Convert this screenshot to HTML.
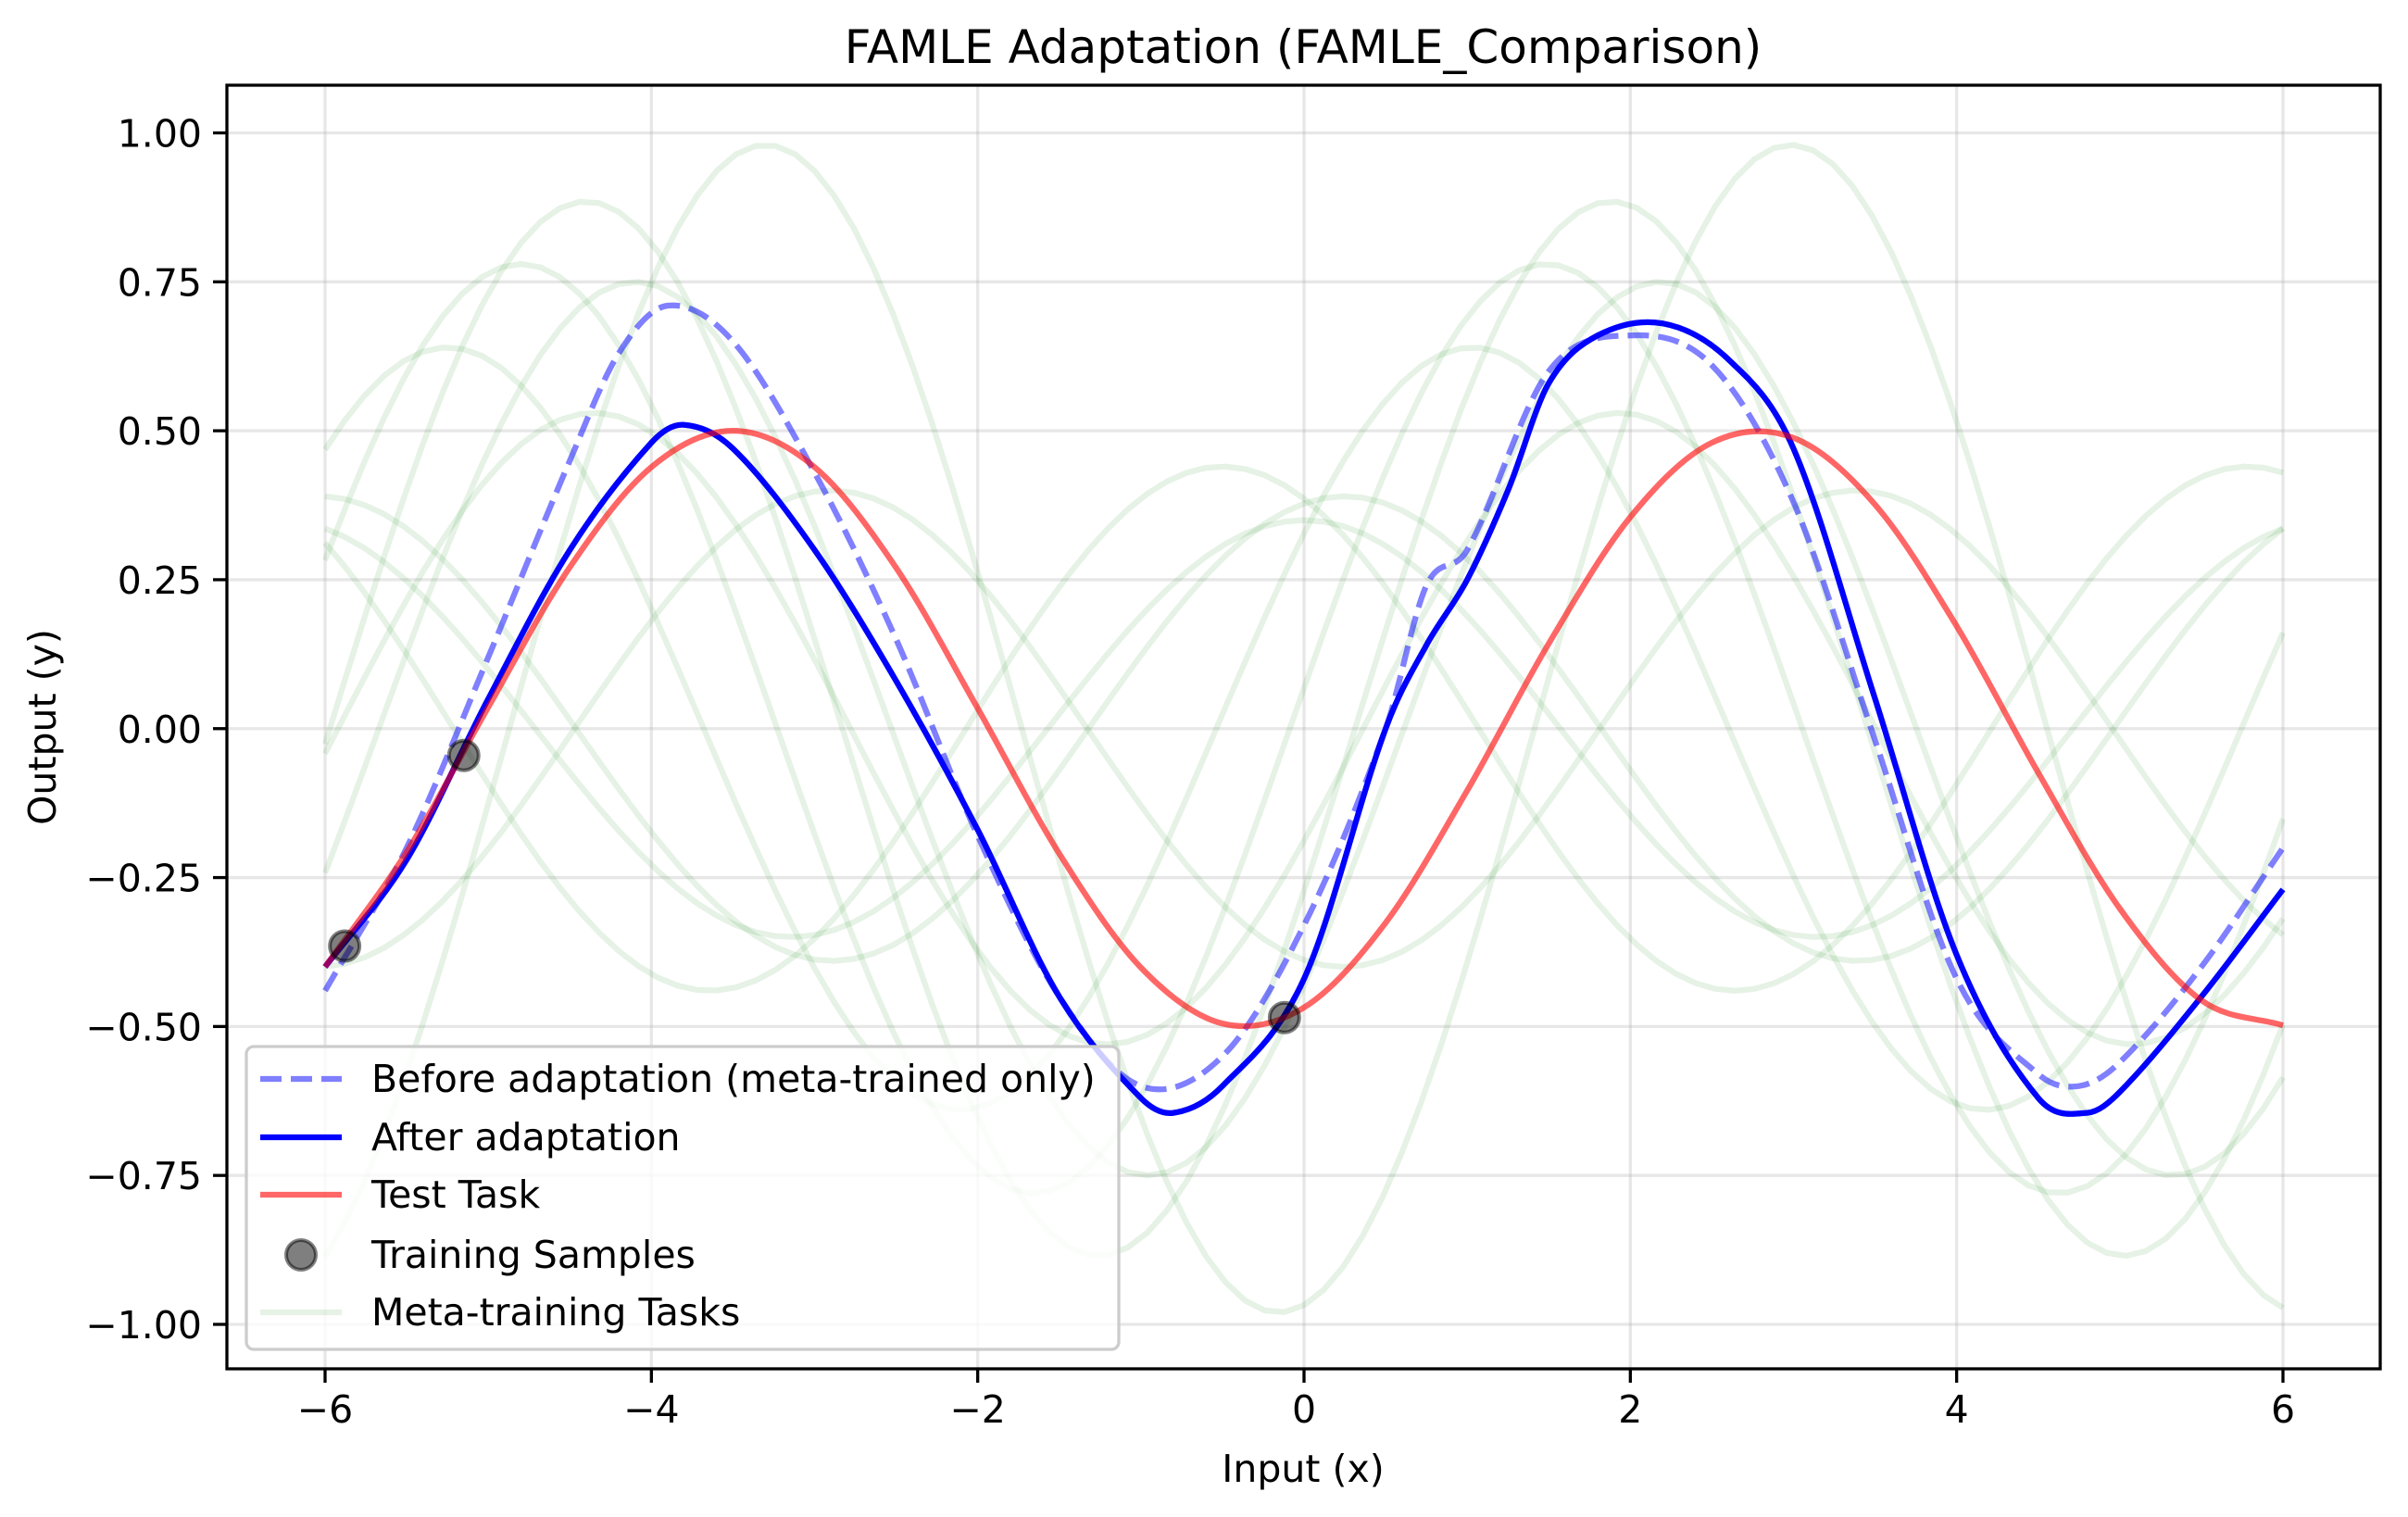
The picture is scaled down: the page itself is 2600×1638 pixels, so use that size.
<!DOCTYPE html>
<html><head><meta charset="utf-8"><style>
html,body{margin:0;padding:0;background:#fff}
svg{display:block}
text{font-family:"DejaVu Sans","Liberation Sans",sans-serif;fill:#000}
</style></head><body>
<svg id="chart" width="2600" height="1638" viewBox="0 0 2600 1638" xmlns="http://www.w3.org/2000/svg">
<rect width="2600" height="1638" fill="#fff"/>
<text x="1407" y="68" font-size="50" text-anchor="middle">FAMLE Adaptation (FAMLE_Comparison)</text>
<g id="grid"></g>
<g id="meta"></g>
<g id="series"></g>
<rect x="245" y="92" width="2325" height="1386" fill="none" stroke="#000" stroke-width="3.3"/>
<g id="axes"></g>
<text x="1407" y="1600" font-size="41" text-anchor="middle">Input (x)</text>
<text transform="translate(60,785) rotate(-90)" font-size="41" text-anchor="middle">Output (y)</text>
<g id="legend"></g>
</svg>
<script>
const xTicks=[-6,-4,-2,0,2,4,6];
const xTickLabels=["\u22126","\u22124","\u22122","0","2","4","6"];
const yTicks=[1,0.75,0.5,0.25,0,-0.25,-0.5,-0.75,-1];
const yTickLabels=["1.00","0.75","0.50","0.25","0.00","\u22120.25","\u22120.50","\u22120.75","\u22121.00"];

const testX=[-6,-5.5,-5,-4.5,-4,-3.5,-3,-2.5,-2,-1.5,-1,-0.5,0,0.5,1,1.5,2,2.5,3,3.5,4,4.5,5,5.5,6];
const testY=[-0.400,-0.207,0.036,0.271,0.439,0.5,0.439,0.270,0.034,-0.210,-0.401,-0.495,-0.468,-0.326,-0.104,0.143,0.355,0.480,0.488,0.376,0.172,-0.074,-0.302,-0.456,-0.498];

const afterX=[-6,-5.5,-5,-4.5,-4,-3.8,-3.5,-3,-2.5,-2,-1.5,-1,-0.8,-0.5,0,0.5,0.75,1,1.25,1.5,1.8,2.2,2.6,3,3.5,4,4.5,4.8,5,5.5,6];
const afterY=[-0.40,-0.22,0.05,0.30,0.48,0.51,0.47,0.30,0.08,-0.17,-0.45,-0.62,-0.645,-0.60,-0.42,0.0,0.14,0.25,0.40,0.58,0.66,0.68,0.62,0.47,0.05,-0.38,-0.62,-0.645,-0.61,-0.45,-0.27];

const beforeX=[-6,-5.5,-5,-4.5,-4.2,-3.9,-3.5,-3,-2.5,-2,-1.5,-1,-0.5,0,0.5,0.75,1,1.5,2,2.5,3,3.5,4,4.5,4.75,5,5.5,6];
const beforeY=[-0.44,-0.20,0.12,0.45,0.63,0.71,0.65,0.43,0.15,-0.18,-0.45,-0.60,-0.55,-0.33,0.0,0.24,0.30,0.60,0.66,0.61,0.38,-0.02,-0.42,-0.58,-0.60,-0.56,-0.40,-0.20];

const sampleX=[-5.88,-5.15,-0.12];
const sampleY=[-0.365,-0.045,-0.485];

const metaAmps=[0.98,0.885,0.78,0.75,0.64,0.53,0.44,0.40,0.39,0.35];
const metaPeaks=[-3.3,-4.4,-4.8,-4.1,-5.25,-4.35,-0.5,-2.9,0.25,0.0];

const NS="http://www.w3.org/2000/svg";
const X0=351,X1=2465,Y1p=143.5,Ym1=1430;
function sx(v){return X0+(v+6)*(X1-X0)/12;}
function sy(v){return Y1p+(1-v)*(Ym1-Y1p)/2;}
function mk(tag,attrs,parent){const e=document.createElementNS(NS,tag);for(const k in attrs)e.setAttribute(k,attrs[k]);parent.appendChild(e);return e;}
function smoothPath(xs,ys){
  const p=xs.map((x,i)=>[sx(x),sy(ys[i])]);
  const n=p.length;
  const m=p.map((q,i)=>{const a=p[Math.max(i-1,0)],b=p[Math.min(i+1,n-1)];return (b[1]-a[1])/(b[0]-a[0]);});
  let d="M"+p[0][0].toFixed(1)+","+p[0][1].toFixed(1);
  for(let i=0;i<n-1;i++){
    const h=(p[i+1][0]-p[i][0])/3;
    d+="C"+(p[i][0]+h).toFixed(1)+","+(p[i][1]+m[i]*h).toFixed(1)+" "+(p[i+1][0]-h).toFixed(1)+","+(p[i+1][1]-m[i+1]*h).toFixed(1)+" "+p[i+1][0].toFixed(1)+","+p[i+1][1].toFixed(1);
  }
  return d;
}
const grid=document.getElementById('grid'),axes=document.getElementById('axes');
xTicks.forEach((t,i)=>{
  const g=mk('line',{x1:sx(t),x2:sx(t),y1:92,y2:1478,stroke:'#b0b0b0','stroke-opacity':0.3,'stroke-width':3.3},grid);
  
  
  const tk=mk('line',{x1:sx(t),x2:sx(t),y1:1478,y2:1493,stroke:'#000','stroke-width':3.3},axes);
  
  
  const tx=mk('text',{x:sx(t),y:1536,'font-size':41,'text-anchor':'middle'},axes);
  tx.textContent=xTickLabels[i];
  
  
});
yTicks.forEach((t,i)=>{
  const g=mk('line',{x1:245,x2:2570,y1:sy(t),y2:sy(t),stroke:'#b0b0b0','stroke-opacity':0.3,'stroke-width':3.3},grid);
  
  
  const tk=mk('line',{x1:230,x2:245,y1:sy(t),y2:sy(t),stroke:'#000','stroke-width':3.3},axes);
  
  
  const tx=mk('text',{x:218,y:sy(t)+15,'font-size':41,'text-anchor':'end'},axes);
  tx.textContent=yTickLabels[i];
  
  
});
const meta=document.getElementById('meta');
metaAmps.forEach((a,k)=>{
  let d="";
  for(let i=0;i<=100;i++){const x=-6+12*i/100;const y=a*Math.cos(x-metaPeaks[k]);d+=(i?"L":"M")+sx(x).toFixed(1)+","+sy(y).toFixed(1);}
  const p=mk('path',{d:d,fill:'none',stroke:'green','stroke-opacity':0.1,'stroke-width':6.25},meta);
  
  
});
const S=document.getElementById('series');
const pb=mk('path',{d:smoothPath(beforeX,beforeY),fill:'none',stroke:'#0000ff','stroke-opacity':0.5,'stroke-width':6.25,'stroke-dasharray':'23,10'},S);


const pa=mk('path',{d:smoothPath(afterX,afterY),fill:'none',stroke:'#0000ff','stroke-width':6.25},S);


const pt=mk('path',{d:smoothPath(testX,testY),fill:'none',stroke:'#ff0000','stroke-opacity':0.6,'stroke-width':6.25},S);


sampleX.forEach((x,i)=>{
  const c=mk('circle',{cx:sx(x),cy:sy(sampleY[i]),r:16,fill:'#000','fill-opacity':0.5,stroke:'#000','stroke-opacity':0.5,'stroke-width':4},S);
  
  
});
const L=document.getElementById('legend');
const lb=mk('rect',{x:266,y:1130,width:942,height:327,rx:8,fill:'#fff','fill-opacity':0.8,stroke:'#cccccc','stroke-width':3.3},L);


const items=[
 {label:'Before adaptation (meta-trained only)',stroke:'#0000ff',op:0.5,dash:'23,10'},
 {label:'After adaptation',stroke:'#0000ff',op:1},
 {label:'Test Task',stroke:'#ff0000',op:0.6},
 {label:'Training Samples',marker:true},
 {label:'Meta-training Tasks',stroke:'green',op:0.1}
];
const ly=[1165,1228,1290,1355,1417];
items.forEach((it,i)=>{
  const y=ly[i];
  if(it.marker){
    const c=mk('circle',{cx:325,cy:y,r:16,fill:'#000','fill-opacity':0.5,stroke:'#000','stroke-opacity':0.5,'stroke-width':4},L);
    
    
  } else {
    const a={x1:281,x2:369,y1:y,y2:y,stroke:it.stroke,'stroke-opacity':it.op,'stroke-width':6.25};
    if(it.dash)a['stroke-dasharray']=it.dash;
    const l=mk('line',a,L);
    
    
  }
  const t=mk('text',{x:401,y:y+14,'font-size':41},L);
  t.textContent=it.label;
  
  
});
</script>
</body></html>
